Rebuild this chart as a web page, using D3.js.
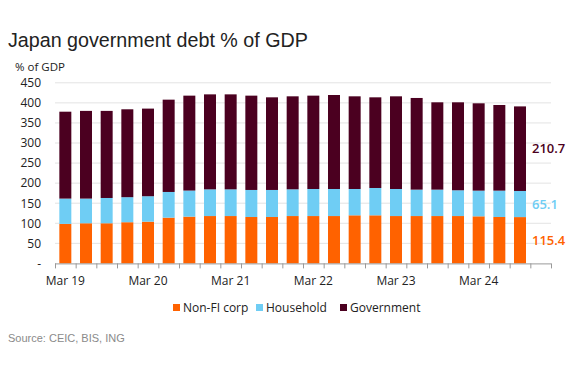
<!DOCTYPE html>
<html>
<head>
<meta charset="utf-8">
<script src="https://cdn.jsdelivr.net/npm/d3@7"></script>
<style>
  body { margin: 0; background: #fff; }
  svg { display: block; }
</style>
</head>
<body>
<svg width="580" height="370"></svg>
<script>
// quarterly data, Mar 19 .. Sep 24
var quarters = ['Mar 19','Jun 19','Sep 19','Dec 19','Mar 20','Jun 20','Sep 20','Dec 20',
                'Mar 21','Jun 21','Sep 21','Dec 21','Mar 22','Jun 22','Sep 22','Dec 22',
                'Mar 23','Jun 23','Sep 23','Dec 23','Mar 24','Jun 24','Sep 24'];
var nonFiCorp  = [98.4, 100, 100, 102.6, 104, 114, 116.5, 118, 118, 115.6, 115.6, 118,
                  118, 118, 119.8, 119.8, 118, 118, 118, 118, 117.3, 115.6, 115.4];
var household  = [63.1, 61.5, 63, 62.4, 63.4, 64, 65, 66.5, 66.5, 67.4, 67.4, 66.6,
                  67.4, 67.4, 65.6, 68.1, 67.4, 65.8, 65.8, 64.2, 64, 65.7, 65.1];
var government = [216.5, 218.5, 217, 219, 218.3, 230, 236.5, 236.7, 236.7, 235, 230.8, 231.7,
                  232.6, 234.2, 230.9, 225.9, 230.9, 228.4, 217.6, 219.2, 217.6, 213.4, 210.7];
var seriesNames = ['Non-FI corp', 'Household', 'Government'];
var xLabels = ['Mar 19', 'Mar 20', 'Mar 21', 'Mar 22', 'Mar 23', 'Mar 24'];
var yTicks = [0, 50, 100, 150, 200, 250, 300, 350, 400, 450];

var colors = { 'Non-FI corp': '#ff6200', 'Household': '#6fcdf4', 'Government': '#4b0020' };
var font = '"Open Sans", "Noto Sans", sans-serif';

var svg = d3.select('svg');

// build rows for the stack
var rows = quarters.map(function(q, i) {
    return { q: q, 'Non-FI corp': nonFiCorp[i], 'Household': household[i], 'Government': government[i] };
});
var stacked = d3.stack().keys(seriesNames)(rows);

// one empty slot after the last quarter
var slots = quarters.concat(['Dec 24']);
var x = d3.scaleBand().domain(slots).range([55, 551]).paddingInner(0.42).paddingOuter(0.21);
var xEdge = d3.scaleLinear().domain([0, slots.length]).range([55, 551]);
var y = d3.scaleLinear().domain([0, 450]).range([263.4, 82.8]);

// gridlines
svg.append('g')
    .selectAll('line')
    .data(yTicks.filter(function(d) { return d > 0; }))
    .enter().append('line')
    .attr('x1', 55).attr('x2', 551)
    .attr('y1', function(d) { return y(d); })
    .attr('y2', function(d) { return y(d); })
    .attr('stroke', '#e3e3e3')
    .attr('stroke-width', 1);

// y axis labels
var yAxis = svg.append('g')
    .attr('transform', 'translate(44,0)')
    .call(d3.axisLeft(y).tickValues(yTicks).tickSize(0).tickPadding(3)
        .tickFormat(function(d) { return d === 0 ? '-' : d; }));
yAxis.select('.domain').remove();
yAxis.selectAll('text').attr('font-family', font).attr('font-size', 12).attr('fill', '#222');

// bars
svg.append('g')
    .selectAll('g')
    .data(stacked)
    .enter().append('g')
    .attr('fill', function(d) { return colors[d.key]; })
    .selectAll('rect')
    .data(function(d) { return d; })
    .enter().append('rect')
    .attr('x', function(d) { return x(d.data.q); })
    .attr('width', x.bandwidth())
    .attr('y', function(d) { return y(d[1]); })
    .attr('height', function(d) { return y(d[0]) - y(d[1]); });

// x axis: tick marks on the band edges
var edgeAxis = svg.append('g')
    .attr('transform', 'translate(0,' + y(0) + ')')
    .call(d3.axisBottom(xEdge).tickValues(d3.range(slots.length + 1)).tickSize(5).tickFormat(''));
edgeAxis.selectAll('line, path').attr('stroke', '#999');
edgeAxis.select('.domain').attr('d', 'M55,0.5H551');

// x axis labels
var xAxis = svg.append('g')
    .attr('transform', 'translate(0,' + y(0) + ')')
    .call(d3.axisBottom(x).tickValues(xLabels).tickSize(0).tickPadding(13));
xAxis.select('.domain').remove();
xAxis.selectAll('text').attr('font-family', font).attr('font-size', 12).attr('fill', '#222');

// end-of-series value labels, at each segment's middle
var last = quarters.length - 1;
svg.append('g')
    .selectAll('text')
    .data(stacked)
    .enter().append('text')
    .attr('x', 532)
    .attr('y', function(d) { return y((d[last][0] + d[last][1]) / 2); })
    .attr('dy', '0.35em')
    .attr('font-family', font)
    .attr('font-size', 13)
    .attr('font-weight', 600)
    .attr('fill', function(d) { return colors[d.key]; })
    .text(function(d) { return d3.format('.1f')(d[last][1] - d[last][0]); });

// legend
var legendX = [173, 256, 340];
var legend = svg.append('g')
    .selectAll('g')
    .data(seriesNames)
    .enter().append('g')
    .attr('transform', function(d, i) { return 'translate(' + legendX[i] + ',303)'; });
legend.append('rect')
    .attr('width', 7).attr('height', 7).attr('y', 1)
    .attr('fill', function(d) { return colors[d]; });
legend.append('text')
    .attr('x', 10).attr('y', 9)
    .attr('font-family', font).attr('font-size', 12).attr('fill', '#222')
    .text(function(d) { return d; });

// titles
svg.append('text')
    .attr('x', 8).attr('y', 47)
    .attr('font-family', 'Arial, "Liberation Sans", sans-serif')
    .attr('font-size', 19.7).attr('fill', '#222')
    .text('Japan government debt % of GDP');
svg.append('text')
    .attr('x', 15).attr('y', 71)
    .attr('font-family', font).attr('font-size', 11.5).attr('fill', '#222')
    .text('% of GDP');
svg.append('text')
    .attr('x', 8).attr('y', 342)
    .attr('font-family', 'Arial, "Liberation Sans", sans-serif')
    .attr('font-size', 11).attr('fill', '#8a8a8a')
    .text('Source: CEIC, BIS, ING');
</script>
</body>
</html>
